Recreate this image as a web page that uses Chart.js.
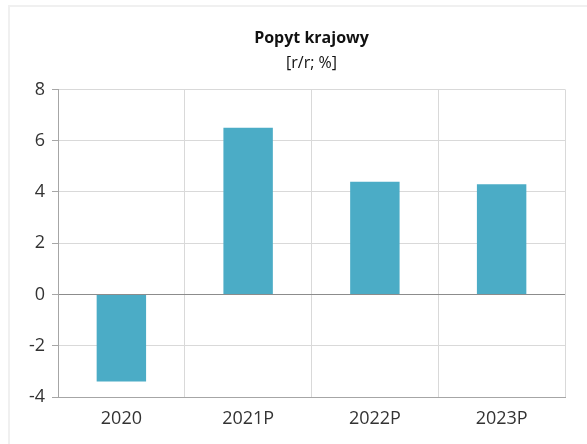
<!DOCTYPE html>
<html>
<head>
<meta charset="utf-8">
<script src="https://cdn.jsdelivr.net/npm/chart.js@4"></script>
<style>
  body { margin: 0; background: #fff; }
  #wrap { position: relative; width: 587px; height: 444px; overflow: hidden; }
  #frame { position: absolute; left: 8px; top: 5px; right: 0; bottom: 0;
           border-top: 2px solid #f0f0f0; border-left: 2px solid #f0f0f0; }
  canvas { position: absolute; left: 0; top: 0; }
</style>
</head>
<body>
<div id="wrap">
  <div id="frame"></div>
  <canvas id="chart" width="587" height="444"></canvas>
</div>
<script>
// Data
const categories = ['2020', '2021P', '2022P', '2023P'];
const values = [-3.4, 6.5, 4.4, 4.3];
const yTicks = [-4, -2, 0, 2, 4, 6, 8];

const FONT = "'Open Sans', 'Noto Sans', sans-serif";

const ctx = document.getElementById('chart').getContext('2d');

new Chart(ctx, {
    type: 'bar',
    data: {
        labels: categories,
        datasets: [{
            data: values,
            backgroundColor: '#4bacc6',
            borderWidth: 0,
            barPercentage: 0.39,
            categoryPercentage: 1
        }]
    },
    options: {
        responsive: false,
        animation: false,
        layout: { padding: { top: 0, right: 22, bottom: 0, left: 0 } },
        plugins: {
            legend: { display: false },
            tooltip: { enabled: false },
            title: {
                display: true,
                fullSize: false,
                text: 'Popyt krajowy',
                color: '#111',
                font: { family: FONT, size: 16, weight: 'bold' },
                padding: { top: 29, bottom: 6 }
            },
            subtitle: {
                display: true,
                fullSize: false,
                text: '[r/r; %]',
                color: '#111',
                font: { family: FONT, size: 16, weight: 'normal' },
                padding: { top: 0, bottom: 16 }
            }
        },
        scales: {
            x: {
                grid: {
                    offset: true,
                    color: '#d9d9d9',
                    lineWidth: 1,
                    tickLength: 0
                },
                border: { display: true, color: '#a6a6a6' },
                ticks: {
                    color: '#333',
                    font: { family: FONT, size: 18 },
                    padding: 11
                },
                afterFit: s => { s.height = 47; }
            },
            y: {
                min: -4,
                max: 8,
                afterBuildTicks: s => { s.ticks = yTicks.map(v => ({ value: v })); },
                grid: {
                    color: c => c.tick && c.tick.value === 0 ? '#8c8c8c' : '#d9d9d9',
                    lineWidth: 1,
                    tickLength: 6,
                    tickColor: '#a6a6a6'
                },
                border: { display: true, color: '#a6a6a6' },
                ticks: {
                    color: '#333',
                    font: { family: FONT, size: 18 },
                    padding: 7
                },
                afterFit: s => { s.width = 58; }
            }
        }
    }
});
</script>
</body>
</html>
